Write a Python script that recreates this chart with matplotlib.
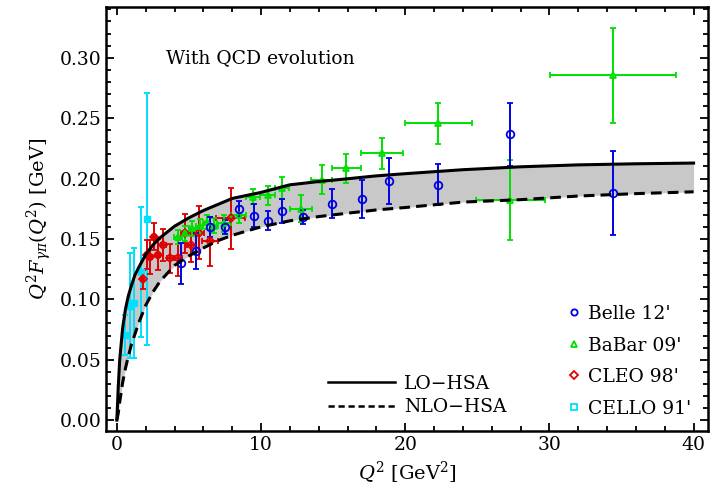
import matplotlib
matplotlib.use('Agg')
import matplotlib.pyplot as plt
from matplotlib.lines import Line2D
from matplotlib.ticker import MultipleLocator
import numpy as np

plt.rcParams['font.family'] = ['DejaVu Serif']
plt.rcParams['mathtext.fontset'] = 'dejavuserif'

# theory curves
q2_lo = [0, 0.1, 0.2, 0.4, 0.6, 0.8, 1.0, 1.25, 1.5, 2, 2.5, 3, 4, 5, 6, 7, 8,
         10, 12, 14, 16, 18, 20, 24, 28, 32, 36, 40]
f_lo = [0, 0.028, 0.05, 0.076, 0.092, 0.103, 0.111, 0.12, 0.126, 0.137, 0.145,
        0.151, 0.1605, 0.1675, 0.1735, 0.1785, 0.1835, 0.1885, 0.1948, 0.1975,
        0.1998, 0.2022, 0.204, 0.2073, 0.2097, 0.2113, 0.2122, 0.2128]
q2_nlo = [0, 0.1, 0.2, 0.4, 0.6, 0.8, 1.0, 1.25, 1.5, 2, 2.5, 3, 4, 5, 6, 7, 8,
          10, 12, 14, 16, 18, 20, 24, 28, 32, 36, 40]
f_nlo = [0, 0.006, 0.015, 0.031, 0.043, 0.053, 0.062, 0.071, 0.08, 0.095, 0.106,
         0.115, 0.128, 0.136, 0.1425, 0.1485, 0.153, 0.16, 0.165, 0.1685, 0.1713,
         0.174, 0.176, 0.1805, 0.1825, 0.1855, 0.1875, 0.189]

# Belle 12'
belle_q2 = [4.44, 5.47, 6.45, 7.48, 8.46, 9.5, 10.46, 11.43, 12.9, 14.9, 17.0,
            18.9, 22.3, 27.3, 34.4]
belle_f = [0.130, 0.140, 0.160, 0.160, 0.175, 0.169, 0.165, 0.173, 0.168, 0.179,
           0.183, 0.198, 0.195, 0.2365, 0.188]
belle_err = [0.017, 0.015, 0.008, 0.006, 0.006, 0.0095, 0.008, 0.01, 0.006,
             0.012, 0.016, 0.019, 0.017, 0.026, 0.035]

# BaBar 09'
babar_q2 = [4.24, 4.74, 5.24, 5.74, 6.24, 6.74, 7.45, 8.45, 9.46, 10.46, 11.46,
            12.75, 14.2, 15.9, 18.4, 22.3, 27.3, 34.4]
babar_f = [0.1515, 0.1546, 0.1587, 0.1605, 0.1642, 0.161, 0.163, 0.170, 0.185,
           0.186, 0.192, 0.175, 0.199, 0.2083, 0.2208, 0.2456, 0.182, 0.2853]
babar_err = [0.006, 0.006, 0.006, 0.006, 0.006, 0.006, 0.007, 0.007, 0.006,
             0.008, 0.009, 0.011, 0.012, 0.0124, 0.013, 0.017, 0.033, 0.039]
babar_dq2 = [0.25, 0.25, 0.25, 0.25, 0.25, 0.25, 0.5, 0.5, 0.5, 0.5, 0.5, 0.77,
             0.75, 1.0, 1.44, 2.33, 2.37, 4.37]

# CLEO 98'
cleo_q2 = [1.78, 2.06, 2.29, 2.58, 2.86, 3.21, 3.71, 4.26, 4.75, 5.16, 5.68,
           6.45, 7.9]
cleo_f = [0.1165, 0.137, 0.135, 0.152, 0.137, 0.145, 0.134, 0.134, 0.1545,
          0.145, 0.155, 0.148, 0.167]
cleo_err = [0.008, 0.012, 0.014, 0.011, 0.013, 0.013, 0.012, 0.015, 0.016,
            0.014, 0.022, 0.020, 0.025]
cleo_dq2 = [0.12, 0.12, 0.13, 0.14, 0.15, 0.17, 0.2, 0.25, 0.28, 0.3, 0.35,
            0.55, 1.0]

# CELLO 91'
cello_q2 = [0.60, 0.90, 1.21, 1.66, 2.11]
cello_f = [0.0704, 0.0948, 0.0969, 0.1225, 0.1666]
cello_err = [0.0166, 0.0433, 0.0458, 0.054, 0.104]

c_blue = '#0000e6'
c_green = '#00e000'
c_red = '#e00000'
c_cyan = '#00e0ff'

fig = plt.figure(figsize=(7.14, 4.98), dpi=100)
ax = fig.add_axes([0.1485, 0.1345, 0.8431, 0.8515])

x_band = np.array(q2_lo)
ax.fill_between(x_band, f_lo, np.interp(x_band, q2_nlo, f_nlo),
                color='#c8c8c8', lw=0, zorder=1)

ekw = dict(ls='none', capsize=2.2, elinewidth=1.4, capthick=1.4, zorder=3)
ax.errorbar(cello_q2, cello_f, yerr=cello_err, color=c_cyan, marker='s',
            ms=4.5, mfc=c_cyan, mec=c_cyan, **ekw)
ax.errorbar(cleo_q2, cleo_f, yerr=cleo_err, xerr=cleo_dq2, color=c_red,
            marker='D', ms=4.5, mfc='none', mec=c_red, mew=1.3, **ekw)
ax.errorbar(babar_q2, babar_f, yerr=babar_err, xerr=babar_dq2, color=c_green,
            marker='^', ms=4.5, mfc='none', mec=c_green, mew=1.3, **ekw)
ax.errorbar(belle_q2, belle_f, yerr=belle_err, color=c_blue, marker='o',
            ms=5.5, mfc='none', mec=c_blue, mew=1.3, **ekw)

ax.plot(q2_lo, f_lo, color='black', lw=2.2, zorder=4)
ax.plot(q2_nlo, f_nlo, color='black', lw=2.2, ls=(0, (3.5, 2)), zorder=4)

ax.set_xlim(-0.75, 41)
ax.set_ylim(-0.009, 0.342)
ax.xaxis.set_major_locator(MultipleLocator(10))
ax.xaxis.set_minor_locator(MultipleLocator(2))
ax.yaxis.set_major_locator(MultipleLocator(0.05))
ax.yaxis.set_minor_locator(MultipleLocator(0.01))
ax.yaxis.set_major_formatter(matplotlib.ticker.FormatStrFormatter('%.2f'))
ax.tick_params(which='both', direction='in', top=True, right=True,
               labelsize=13.5, width=1.3)
ax.tick_params(which='major', length=6)
ax.tick_params(which='minor', length=3.5)
for s in ax.spines.values():
    s.set_linewidth(1.8)

ax.set_xlabel(r'$Q^2$ [GeV$^2$]', fontsize=14)
ax.set_ylabel(r'$Q^2F_{\gamma\pi}(Q^2)$ [GeV]', fontsize=14)

ax.text(0.1, 0.88, 'With QCD evolution', transform=ax.transAxes,
        fontsize=13.5, va='center')

line_handles = [Line2D([], [], color='black', lw=1.8),
                Line2D([], [], color='black', lw=1.8, ls=(0, (2.5, 1.5)))]
leg1 = ax.legend(line_handles, ['LO\u2212HSA', 'NLO\u2212HSA'],
                 loc='lower left', bbox_to_anchor=(0.34, -0.005), frameon=False,
                 fontsize=13.5, handlelength=3.6, handletextpad=0.5,
                 labelspacing=0.3)
ax.add_artist(leg1)

mark_handles = [
    Line2D([], [], ls='none', marker='o', ms=4.5, mfc='none', mec=c_blue, mew=1.3),
    Line2D([], [], ls='none', marker='^', ms=4.5, mfc='none', mec=c_green, mew=1.3),
    Line2D([], [], ls='none', marker='D', ms=4, mfc='none', mec=c_red, mew=1.3),
    Line2D([], [], ls='none', marker='s', ms=4, mfc='none', mec=c_cyan, mew=1.3),
]
ax.legend(mark_handles, ["Belle 12'", "BaBar 09'", "CLEO 98'", "CELLO 91'"],
          loc='lower right', bbox_to_anchor=(1.0, -0.008), frameon=False,
          fontsize=13.5, handlelength=0.6, handletextpad=0.45, labelspacing=0.72)

plt.savefig('out.png', dpi=100)
plt.close()
